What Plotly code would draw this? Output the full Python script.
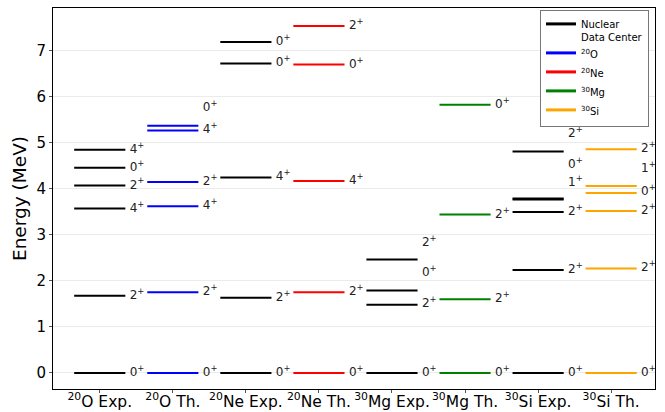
import plotly.graph_objects as go

# ---- data ----
columns = ["<sup>20</sup>O Exp.", "<sup>20</sup>O Th.", "<sup>20</sup>Ne Exp.", "<sup>20</sup>Ne Th.",
           "<sup>30</sup>Mg Exp.", "<sup>30</sup>Mg Th.", "<sup>30</sup>Si Exp.", "<sup>30</sup>Si Th."]
column_colors = ["black", "blue", "black", "red", "black", "green", "black", "orange"]

o20_exp_E = [0.0, 1.674, 3.570, 4.072, 4.456, 4.850]
o20_exp_J = [0, 2, 4, 2, 0, 4]
o20_exp_labelE = [0.0, 1.674, 3.570, 4.072, 4.456, 4.850]

o20_th_E = [0.0, 1.75, 3.62, 4.15, 5.27, 5.37]
o20_th_J = [0, 2, 4, 2, 4, 0]
o20_th_labelE = [0.0, 1.75, 3.62, 4.15, 5.28, 5.76]

ne20_exp_E = [0.0, 1.634, 4.248, 6.725, 7.191]
ne20_exp_J = [0, 2, 4, 0, 0]
ne20_exp_labelE = [0.0, 1.634, 4.248, 6.725, 7.191]

ne20_th_E = [0.0, 1.75, 4.17, 6.70, 7.54]
ne20_th_J = [0, 2, 4, 0, 2]
ne20_th_labelE = [0.0, 1.75, 4.17, 6.70, 7.54]

mg30_exp_E = [0.0, 1.482, 1.789, 2.466]
mg30_exp_J = [0, 2, 0, 2]
mg30_exp_labelE = [0.0, 1.50, 2.17, 2.83]

mg30_th_E = [0.0, 1.60, 3.44, 5.83]
mg30_th_J = [0, 2, 2, 0]
mg30_th_labelE = [0.0, 1.60, 3.44, 5.83]

si30_exp_E = [0.0, 2.235, 3.498, 3.769, 3.788, 4.810]
si30_exp_J = [0, 2, 2, 1, 0, 2]
si30_exp_labelE = [0.0, 2.235, 3.498, 4.12, 4.51, 5.19]

si30_th_E = [0.0, 2.27, 3.52, 3.91, 4.06, 4.86]
si30_th_J = [0, 2, 2, 0, 1, 2]
si30_th_labelE = [0.0, 2.27, 3.52, 3.93, 4.43, 4.87]

legend_names = ["Nuclear<br>Data Center", "<sup>20</sup>O", "<sup>20</sup>Ne", "<sup>30</sup>Mg", "<sup>30</sup>Si"]
legend_colors = ["black", "blue", "red", "green", "orange"]

levels = [
    (o20_exp_E, o20_exp_J, o20_exp_labelE),
    (o20_th_E, o20_th_J, o20_th_labelE),
    (ne20_exp_E, ne20_exp_J, ne20_exp_labelE),
    (ne20_th_E, ne20_th_J, ne20_th_labelE),
    (mg30_exp_E, mg30_exp_J, mg30_exp_labelE),
    (mg30_th_E, mg30_th_J, mg30_th_labelE),
    (si30_exp_E, si30_exp_J, si30_exp_labelE),
    (si30_th_E, si30_th_J, si30_th_labelE),
]

HALF = 0.35
LABEL_DX = 0.41
FONT = "DejaVu Sans"

fig = go.Figure()

for i, (E, J, LE) in enumerate(levels):
    xs, ys = [], []
    for e in E:
        xs += [i - HALF, i + HALF, None]
        ys += [e, e, None]
    fig.add_trace(go.Scatter(x=xs, y=ys, mode="lines",
                             line=dict(color=column_colors[i], width=2),
                             showlegend=False, hoverinfo="skip"))
    fig.add_trace(go.Scatter(x=[i + LABEL_DX] * len(LE), y=LE, mode="text",
                             text=[f"{j}<sup>+</sup>" for j in J],
                             textposition="middle right", cliponaxis=False,
                             textfont=dict(family=FONT, size=12, color="#222"),
                             showlegend=False, hoverinfo="skip"))

for name, col in zip(legend_names, legend_colors):
    fig.add_trace(go.Scatter(x=[None], y=[None], mode="lines", name=name,
                             line=dict(color=col, width=3)))

fig.update_layout(
    width=665, height=412,
    margin=dict(l=53, r=10, t=8, b=23),
    plot_bgcolor="white", paper_bgcolor="white",
    font=dict(family=FONT, color="black"),
    legend=dict(x=0.99, y=0.995, xanchor="right", yanchor="top",
                bgcolor="white", bordercolor="#777", borderwidth=1,
                font=dict(family=FONT, size=10), valign="top",
                tracegroupgap=0, itemwidth=30),
    xaxis=dict(range=[-0.64, 7.6], tickmode="array", automargin=False,
               tickvals=list(range(len(columns))), ticktext=columns,
               tickfont=dict(family=FONT, size=15.5), ticklabelstandoff=-5, tickangle=0,
               showgrid=False, zeroline=False, showline=True, linecolor="black",
               linewidth=1, mirror=True, ticks="outside", ticklen=3, tickcolor="#555"),
    yaxis=dict(range=[-0.35, 7.93], tickvals=[0, 1, 2, 3, 4, 5, 6, 7], automargin=False,
               tickfont=dict(family=FONT, size=15),
               title=dict(text="Energy (MeV)", font=dict(family=FONT, size=18.5), standoff=4),
               showgrid=True, gridcolor="#ebebeb", gridwidth=1, zeroline=False,
               showline=True, linecolor="black", linewidth=1, mirror=True,
               ticks="outside", ticklen=3, tickcolor="#555"),
)

fig.write_html("out.html", config={"displayModeBar": False},
               post_script="document.body.style.margin='0px';")
